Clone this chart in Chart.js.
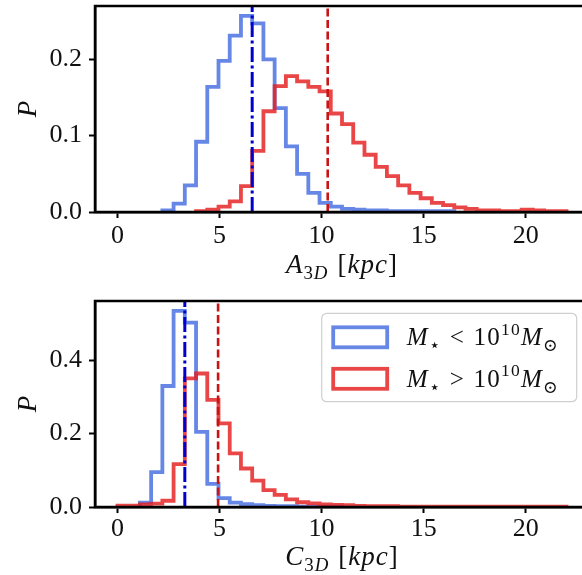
<!DOCTYPE html>
<html>
<head>
<meta charset="utf-8">
<script src="https://cdn.jsdelivr.net/npm/chart.js@4.4.0/dist/chart.umd.min.js"></script>
<style>
  html, body { margin: 0; padding: 0; background: #fff; overflow: hidden; }
  #wrap { width: 582px; height: 575px; overflow: hidden; position: relative; }
  .panel { position: absolute; left: 0; }
  #top { top: 0; }
  #bottom { top: 288px; }
</style>
</head>
<body>
<div id="wrap">
  <div class="panel" id="top"><canvas id="chartA" width="590" height="288"></canvas></div>
  <div class="panel" id="bottom"><canvas id="chartC" width="590" height="287"></canvas></div>
</div>
<script>
/* ---------- data ---------- */
const binWidth = 0.55;               // 40 bins over 0..22 kpc
const xTicks = [0, 5, 10, 15, 20];
const seriesLabels = ['M_⋆ < 10^{10}M_⊙', 'M_⋆ > 10^{10}M_⊙'];

// A_3D panel
const aTitle = 'A_{3D} [kpc]';
const aYTicks = [0, 0.1, 0.2];
const aLowStart = 4;                 // index of first bin
const aLow = [0.002, 0.011, 0.035, 0.092, 0.164, 0.198, 0.231, 0.257, 0.247, 0.200,
  0.136, 0.086, 0.050, 0.025, 0.012, 0.007, 0.004, 0.003, 0.002, 0.002,
  0.001, 0.001, 0.001, 0.001, 0.001, 0.001];
const aHighStart = 7;
const aHigh = [0.001, 0.003, 0.007, 0.014, 0.034, 0.080, 0.132, 0.165, 0.178, 0.171,
  0.164, 0.158, 0.129, 0.115, 0.091, 0.075, 0.059, 0.047, 0.035, 0.025,
  0.018, 0.012, 0.009, 0.006, 0.004, 0.002, 0.002, 0.001, 0.001, 0.003,
  0.002, 0.001, 0.001];
const aMedians = [6.6, 10.3];

// C_3D panel
const cTitle = 'C_{3D} [kpc]';
const cYTicks = [0, 0.2, 0.4];
const cLowStart = 2;
const cLow = [0.012, 0.095, 0.330, 0.535, 0.503, 0.205, 0.063, 0.024, 0.012, 0.008,
  0.005, 0.003, 0.002, 0.002, 0.001, 0.001, 0.001, 0.001];
const cHighStart = 0;
const cHigh = [0.004, 0.004, 0.007, 0.009, 0.017, 0.117, 0.351, 0.364, 0.292, 0.228,
  0.146, 0.105, 0.072, 0.046, 0.033, 0.021, 0.013, 0.010, 0.007, 0.006,
  0.005, 0.003, 0.002, 0.002, 0.002, 0.001, 0.001, 0.001, 0.001, 0.001,
  0.001, 0.001, 0.001, 0.001, 0.001, 0.001, 0.001, 0.001, 0.001, 0.001];
const cMedians = [3.3, 4.93];

/* ---------- helpers ---------- */
const SERIF = "'Liberation Serif', 'DejaVu Serif', serif";
const LOW_COLOR = 'rgba(65, 105, 225, 0.8)';
const HIGH_COLOR = 'rgba(228, 30, 30, 0.82)';

function stepPoints(start, values) {
  const pts = [{ x: start * binWidth, y: 0 }];
  values.forEach((v, i) => pts.push({ x: (start + i) * binWidth, y: v }));
  const end = (start + values.length) * binWidth;
  pts.push({ x: end, y: values[values.length - 1] });
  pts.push({ x: end, y: 0 });
  return pts;
}

// tiny TeX-ish parser: _x or _{xy} subscript, ^x or ^{xy} superscript
function parseMath(text) {
  const out = [];
  let i = 0;
  while (i < text.length) {
    const c = text[i];
    if (c === '_' || c === '^') {
      const level = c === '_' ? -1 : 1;
      i++;
      let grp;
      if (text[i] === '{') {
        const j = text.indexOf('}', i);
        grp = text.slice(i + 1, j);
        i = j + 1;
      } else {
        grp = text[i];
        i++;
      }
      for (const ch of grp) out.push({ ch, level });
      continue;
    }
    out.push({ ch: c, level: 0 });
    i++;
  }
  return out;
}

function drawMath(ctx, text, x, y, size, align, track) {
  const glyphs = parseMath(text);
  let total = 0;
  glyphs.forEach(g => {
    const s = g.level ? size * 0.7 : size;
    g.font = (/[A-Za-z]/.test(g.ch) ? 'italic ' : '') + s + 'px ' + SERIF;
    ctx.font = g.font;
    g.w = (g.ch === ' ' ? size * 0.3 : ctx.measureText(g.ch).width) + track;
    g.dy = g.level < 0 ? size * 0.24 : (g.level > 0 ? -size * 0.42 : 0);
    total += g.w;
  });
  let cx = align === 'center' ? x - total / 2 : x;
  ctx.save();
  ctx.fillStyle = '#111';
  ctx.textAlign = 'left';
  ctx.textBaseline = 'alphabetic';
  glyphs.forEach(g => {
    ctx.font = g.font;
    if (g.ch !== ' ') ctx.fillText(g.ch, cx, y + g.dy);
    cx += g.w;
  });
  ctx.restore();
}

/* ---------- one histogram panel ---------- */
function createHistPanel(canvasId, cfg) {
  const yMax = 1.05 * Math.max(...cfg.low, ...cfg.high);

  const framePlugin = {
    id: 'frame',
    afterDatasetsDraw(chart) {
      const { ctx, chartArea: a } = chart;
      ctx.save();
      ctx.strokeStyle = '#000';
      ctx.lineWidth = 2.5;
      ctx.strokeRect(a.left, a.top, a.right - a.left, a.bottom - a.top);
      ctx.restore();
    },
    afterDraw(chart) {
      const { ctx, chartArea: a } = chart;
      drawMath(ctx, cfg.title, (a.left + a.right) / 2, cfg.titleBaseline, 27, 'center', 1);
      if (cfg.legend) drawLegend(ctx, a);
    }
  };

  new Chart(document.getElementById(canvasId), {
    type: 'line',
    data: {
      datasets: [
        {
          data: [{ x: cfg.medians[1], y: 0 }, { x: cfg.medians[1], y: yMax }],
          borderColor: '#c81414', borderWidth: 2.6, borderDash: [8, 3.5],
          pointRadius: 0, order: 0
        },
        {
          data: [{ x: cfg.medians[0], y: 0 }, { x: cfg.medians[0], y: yMax }],
          borderColor: '#0000cd', borderWidth: 3, borderDash: [15, 3.5, 3, 3.5],
          pointRadius: 0, order: 1
        },
        {
          label: seriesLabels[1],
          data: stepPoints(cfg.highStart, cfg.high),
          borderColor: HIGH_COLOR, borderWidth: 3.8, stepped: 'before',
          borderJoinStyle: 'miter', pointRadius: 0, fill: false, order: 2
        },
        {
          label: seriesLabels[0],
          data: stepPoints(cfg.lowStart, cfg.low),
          borderColor: LOW_COLOR, borderWidth: 3.8, stepped: 'before',
          borderJoinStyle: 'miter', pointRadius: 0, fill: false, order: 3
        }
      ]
    },
    options: {
      responsive: false,
      animation: false,
      layout: { padding: { top: cfg.padTop, left: 0, right: 1, bottom: 0 } },
      plugins: { legend: { display: false }, tooltip: { enabled: false } },
      scales: {
        x: {
          type: 'linear',
          min: -1.1,
          max: 23.1,
          afterBuildTicks: s => { s.ticks = xTicks.map(v => ({ value: v })); },
          afterFit: s => {
            s.height = cfg.xAxisHeight;
            s.paddingLeft = 0; s.paddingRight = 0;
          },
          grid: { drawOnChartArea: false, drawTicks: true, tickLength: 6, tickWidth: 2, tickColor: '#000' },
          border: { display: true, color: '#000', width: 2.5 },
          ticks: {
            color: '#111', padding: cfg.xTickPad, maxRotation: 0,
            font: { family: SERIF, size: 26, lineHeight: 1 },
            callback: v => String(v)
          }
        },
        y: {
          min: 0,
          max: yMax,
          afterBuildTicks: s => { s.ticks = cfg.yTicks.map(v => ({ value: v })); },
          afterFit: s => {
            s.width = 95;
            s.paddingTop = 0; s.paddingBottom = 0;
          },
          grid: { drawOnChartArea: false, drawTicks: true, tickLength: 6, tickWidth: 2, tickColor: '#000' },
          border: { display: true, color: '#000', width: 2.5 },
          ticks: {
            color: '#111', padding: 7,
            font: { family: SERIF, size: 26, lineHeight: 1 },
            callback: v => v.toFixed(1)
          },
          title: {
            display: true, text: 'P', color: '#111',
            font: { family: SERIF, size: 27, style: 'italic', lineHeight: 1.2 },
            padding: { top: 13, bottom: 0 }
          }
        }
      }
    },
    plugins: [framePlugin]
  });
}

function drawLegend(ctx, a) {
  const bx = a.right - 267.3, by = a.top + 12.3, bw = 255, bh = 88.4;
  ctx.save();
  ctx.beginPath();
  ctx.roundRect(bx, by, bw, bh, 5);
  ctx.fillStyle = 'rgba(255,255,255,0.8)';
  ctx.fill();
  ctx.strokeStyle = '#cfcfcf';
  ctx.lineWidth = 1.2;
  ctx.stroke();
  const colors = [LOW_COLOR, HIGH_COLOR];
  seriesLabels.forEach((label, i) => {
    const hy = by + 14 + i * 41.5;
    ctx.strokeStyle = colors[i];
    ctx.lineWidth = 3.8;
    ctx.strokeRect(bx + 11.5, hy, 54, 20);
    drawMath(ctx, label, bx + 85, by + 32 + i * 41.5, 25, 'left', 1.2);
  });
  ctx.restore();
}

createHistPanel('chartA', {
  low: aLow, lowStart: aLowStart, high: aHigh, highStart: aHighStart,
  medians: aMedians, yTicks: aYTicks, title: aTitle,
  padTop: 6, xAxisHeight: 76, xTickPad: 5, titleBaseline: 273, legend: false
});

createHistPanel('chartC', {
  low: cLow, lowStart: cLowStart, high: cHigh, highStart: cHighStart,
  medians: cMedians, yTicks: cYTicks, title: cTitle,
  padTop: 13, xAxisHeight: 68, xTickPad: 3, titleBaseline: 277, legend: true
});
</script>
</body>
</html>
